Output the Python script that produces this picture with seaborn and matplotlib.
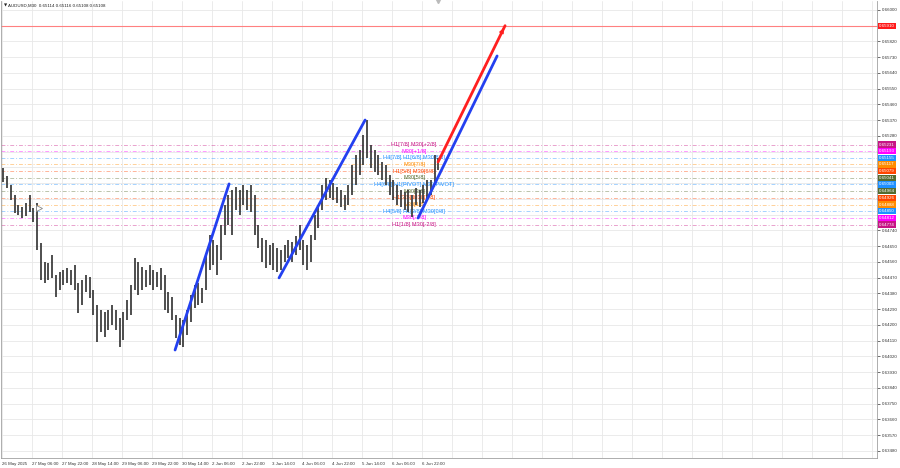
import matplotlib
matplotlib.use("Agg")
import numpy as np
import matplotlib.pyplot as plt
import seaborn as sns

# AUDUSD M30 chart
symbol = "AUDUSD,M30"
last_ohlc = ["0.65114", "0.65116", "0.65108", "0.65108"]

# high / low of every 2-hour block (4 x M30 bars)
block_high = [
    0.65097, 0.65051, 0.65000, 0.64943, 0.64886, 0.64874, 0.64897, 0.64943, 0.64869, 0.64897,
    0.64669, 0.64560, 0.64554, 0.64600, 0.64486, 0.64503, 0.64514, 0.64526, 0.64514, 0.64543,
    0.64440, 0.64457, 0.64486, 0.64474, 0.64400, 0.64314, 0.64286, 0.64274, 0.64286, 0.64314,
    0.64286, 0.64240, 0.64274, 0.64343, 0.64429, 0.64583, 0.64560, 0.64531, 0.64514, 0.64543,
    0.64514, 0.64503, 0.64526, 0.64486, 0.64389, 0.64360, 0.64257, 0.64240, 0.64229, 0.64286,
    0.64371, 0.64429, 0.64440, 0.64411, 0.64600, 0.64714, 0.64686, 0.64657, 0.64771, 0.64886,
    0.64943, 0.64971, 0.64989, 0.64971, 0.65000, 0.64971, 0.65000, 0.64943, 0.64771, 0.64697,
    0.64686, 0.64657, 0.64669, 0.64640, 0.64629, 0.64657, 0.64686, 0.64674, 0.64709, 0.64771,
    0.64686, 0.64657, 0.64714, 0.64829, 0.64886, 0.65000, 0.65040, 0.65029, 0.65011, 0.64989,
    0.64971, 0.64943, 0.65000, 0.65114, 0.65171, 0.65200, 0.65286, 0.65371, 0.65229, 0.65200,
    0.65171, 0.65131, 0.65114, 0.65057, 0.65029, 0.65000, 0.64971, 0.64960, 0.64971, 0.64943,
    0.64983, 0.64971, 0.65000, 0.65029, 0.65029, 0.65171, 0.65154,
]
block_low = [
    0.65017, 0.64983, 0.64914, 0.64840, 0.64829, 0.64811, 0.64823, 0.64846, 0.64789, 0.64629,
    0.64457, 0.64440, 0.64457, 0.64469, 0.64360, 0.64400, 0.64429, 0.64440, 0.64429, 0.64400,
    0.64269, 0.64314, 0.64389, 0.64354, 0.64257, 0.64103, 0.64160, 0.64131, 0.64171, 0.64200,
    0.64171, 0.64074, 0.64114, 0.64229, 0.64257, 0.64400, 0.64371, 0.64400, 0.64417, 0.64429,
    0.64400, 0.64417, 0.64400, 0.64286, 0.64269, 0.64229, 0.64126, 0.64086, 0.64074, 0.64143,
    0.64217, 0.64297, 0.64314, 0.64326, 0.64400, 0.64514, 0.64543, 0.64486, 0.64571, 0.64714,
    0.64771, 0.64714, 0.64857, 0.64829, 0.64886, 0.64857, 0.64846, 0.64714, 0.64640, 0.64560,
    0.64526, 0.64543, 0.64514, 0.64503, 0.64514, 0.64560, 0.64583, 0.64560, 0.64600, 0.64629,
    0.64543, 0.64514, 0.64560, 0.64686, 0.64754, 0.64857, 0.64914, 0.64926, 0.64914, 0.64897,
    0.64874, 0.64857, 0.64886, 0.64943, 0.65000, 0.65057, 0.65114, 0.65154, 0.65097, 0.65074,
    0.65057, 0.65029, 0.65000, 0.64943, 0.64914, 0.64886, 0.64874, 0.64857, 0.64846, 0.64817,
    0.64886, 0.64874, 0.64897, 0.64914, 0.64943, 0.65000, 0.65086,
]
bars_per_block = 4

date_labels = [
    "26 May 2025", "27 May 06:00", "27 May 22:00", "28 May 14:00", "29 May 06:00",
    "29 May 22:00", "30 May 14:00", "2 Jun 06:00", "2 Jun 22:00", "3 Jun 14:00",
    "4 Jun 06:00", "4 Jun 22:00", "5 Jun 14:00", "6 Jun 06:00", "6 Jun 22:00",
]
bars_per_label = 32

price_top = 0.66000
price_step = 0.00090
n_price_ticks = 29

# murrey math levels
level_price = [0.65231, 0.65193, 0.65155, 0.65117, 0.65079, 0.65041, 0.65003,
               0.64964, 0.64926, 0.64888, 0.64850, 0.64812, 0.64774]
level_text = ["H1[7/8] M30[+2/8]", "M30[+1/8]", "H4[7/8] H1[6/8] M30[8/8]", "M30[7/8]",
              "H1[5/8] M30[6/8]", "M30[5/8]", "H4[6/8] H1[PIVOT] M30[PIVOT]", "M30[3/8]",
              "H1[3/8] M30[2/8]", "M30[1/8]", "H4[5/8] H1[2/8] M30[0/8]", "M30[-1/8]",
              "H1[1/8] M30[-2/8]"]
level_color = ["#c71585", "#ff00ff", "#1e90ff", "#ff8c00", "#ff4500", "#556b2f", "#1e90ff",
               "#556b2f", "#ff4500", "#ff8c00", "#1e90ff", "#ff00ff", "#c71585"]
level_text_bar = 439.5

target_price = 0.65910

# trend lines (bar index, price)
trend_bars = [(184.6, 242.2), (295.5, 387.3), (443.8, 528.1)]
trend_prices = [(0.64057, 0.65006), (0.64469, 0.65371), (0.64811, 0.65737)]
arrow_bars = (465.1, 536.6)
arrow_prices = (0.65131, 0.65910)

marker_bar, marker_price = 39.5, 0.64869

sns.set_style("white")
plt.rcParams["font.family"] = ["Liberation Sans", "DejaVu Sans"]

fig = plt.figure(figsize=(9, 4.68), dpi=100)
ax = fig.add_axes([1 / 900, 10 / 468, 876 / 900, 457 / 468])
ax.set_xlim(-1.07, 933.3)
ax.set_ylim(0.63440, 0.66051)

# grid
price_ticks = price_top - price_step * np.arange(n_price_ticks)
hidden = {0.65910, 0.65190, 0.65100, 0.65010, 0.64920, 0.64830}
ax.set_yticks(price_ticks)
ax.set_yticklabels(["" if round(p, 5) in hidden else "%.5f" % p for p in price_ticks])
xt = np.arange(0, 934, bars_per_label)
ax.set_xticks(xt)
ax.set_xticklabels([date_labels[i] if i < len(date_labels) else "" for i in range(len(xt))],
                   ha="left")
ax.grid(True, color="#e8e8e8", lw=0.6, zorder=0)
ax.yaxis.tick_right()
ax.tick_params(axis="y", labelsize=3.2, length=2, width=0.5, pad=1.5, colors="#333333")
ax.tick_params(axis="x", labelsize=3.2, length=2, width=0.5, pad=1.2, colors="#333333")
for s in ax.spines.values():
    s.set_color("#a0a0a0")
    s.set_linewidth(0.6)
ax.spines["top"].set_visible(False)

# levels
for p, t, c in zip(level_price, level_text, level_color):
    ax.axhline(p, color=c, lw=0.7, ls=(0, (4, 2, 1, 2)), alpha=0.4, zorder=1)
    ax.text(level_text_bar, p, t, color=c, fontsize=4.1, ha="center", va="center", zorder=2)
    ax.annotate("%.5f" % p, xy=(1.0, p), xycoords=ax.get_yaxis_transform(),
                xytext=(1.5, 0), textcoords="offset points", ha="left", va="center",
                fontsize=3.2, color="white", annotation_clip=False, zorder=6,
                bbox=dict(boxstyle="square,pad=0.25", fc=c, ec="none"))

ax.axhline(target_price, color="#ff8080", lw=0.8, zorder=1)
ax.annotate("%.5f" % target_price, xy=(1.0, target_price), xycoords=ax.get_yaxis_transform(),
            xytext=(1.5, 0), textcoords="offset points", ha="left", va="center",
            fontsize=3.2, color="white", annotation_clip=False, zorder=6,
            bbox=dict(boxstyle="square,pad=0.25", fc="#ff1a1a", ec="none"))

# price bars
centers = np.arange(len(block_high)) * bars_per_block + 1.5
ax.vlines(centers, block_low, block_high, color="#383838", lw=1.25, zorder=3)
ax.plot(marker_bar, marker_price, marker=">", mfc="white", mec="#888888", ms=4, mew=0.6, zorder=4)

# trend lines
for xs, ys in zip(trend_bars, trend_prices):
    sns.lineplot(x=list(xs), y=list(ys), color="#2340f0", lw=2.0, ax=ax, zorder=5)
sns.lineplot(x=list(arrow_bars), y=list(arrow_prices), color="#ff2020", lw=2.0, ax=ax, zorder=5)
ax.annotate("", xy=(arrow_bars[1], arrow_prices[1]),
            xytext=(arrow_bars[1] - 3, arrow_prices[1] - 0.00032),
            arrowprops=dict(arrowstyle="-|>", color="#ff2020", lw=1.2, mutation_scale=6),
            zorder=5)

ax.text(0.003, 0.994, "\u25bc", transform=ax.transAxes, fontsize=3, color="#222222",
        va="top", ha="left", family="DejaVu Sans")
ax.text(0.008, 0.995, symbol + "  " + " ".join(last_ohlc), transform=ax.transAxes,
        fontsize=3.2, color="#222222", va="top", ha="left")
ax.plot(465, 0.66051, marker="v", color="#bbbbbb", ms=3, clip_on=False, zorder=6)

ax.set_xlabel("")
ax.set_ylabel("")
fig.savefig("out.png", dpi=100)
